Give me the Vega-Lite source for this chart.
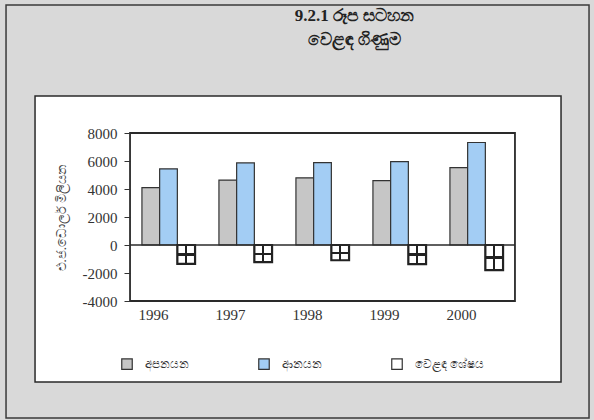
{
  "$schema": "https://vega.github.io/schema/vega-lite/v6.json",
  "width": 385,
  "height": 168,
  "autosize": {"type": "none"},
  "padding": {"left": 130, "top": 133, "right": 79, "bottom": 119},
  "background": "#d9d9d9",
  "config": {
    "view": {"stroke": null},
    "font": "Liberation Serif",
    "axisY": {
      "domain": false,
      "grid": false,
      "tickSize": 6,
      "tickColor": "#333",
      "labelFontSize": 15,
      "labelColor": "#333",
      "labelPadding": 7,
      "labelOverlap": false,
      "titleFontSize": 13,
      "titleFontWeight": "normal",
      "titleColor": "#444",
      "titlePadding": 14
    }
  },
  "title": {
    "text": ["9.2.1 රූප සටහන", "වෙළඳ ගිණුම"],
    "frame": "group",
    "anchor": "middle",
    "dx": 32,
    "offset": -45,
    "fontSize": 17,
    "lineHeight": 24,
    "fontWeight": 600,
    "color": "#222"
  },
  "datasets": {
    "trade": [
      {"year": "1996", "type": "අපනයන", "value": 4095},
      {"year": "1996", "type": "ආනයන", "value": 5439},
      {"year": "1996", "type": "වෙළඳ ශේෂය", "value": -1344},
      {"year": "1997", "type": "අපනයන", "value": 4639},
      {"year": "1997", "type": "ආනයන", "value": 5864},
      {"year": "1997", "type": "වෙළඳ ශේෂය", "value": -1225},
      {"year": "1998", "type": "අපනයන", "value": 4798},
      {"year": "1998", "type": "ආනයන", "value": 5889},
      {"year": "1998", "type": "වෙළඳ ශේෂය", "value": -1091},
      {"year": "1999", "type": "අපනයන", "value": 4594},
      {"year": "1999", "type": "ආනයන", "value": 5960},
      {"year": "1999", "type": "වෙළඳ ශේෂය", "value": -1366},
      {"year": "2000", "type": "අපනයන", "value": 5522},
      {"year": "2000", "type": "ආනයන", "value": 7320},
      {"year": "2000", "type": "වෙළඳ ශේෂය", "value": -1798}
    ]
  },
  "layer": [
    {
      "data": {"values": [{}]},
      "mark": {"type": "rect", "fill": "transparent", "stroke": "#3a3a3a", "strokeWidth": 1.5},
      "encoding": {
        "x": {"datum": "1996", "type": "nominal", "bandPosition": -2.558},
        "x2": {"datum": "2000", "bandPosition": 2.618},
        "y": {"datum": 17143, "type": "quantitative", "axis": {"values": [-4000, -2000, 0, 2000, 4000, 6000, 8000], "labelExpr": "'' + datum.value", "title": "එ.ජ.ඩොලර් මිලියන", "zindex": 1}},
        "y2": {"datum": -12357}
      }
    },
    {
      "data": {"values": [{}]},
      "mark": {"type": "rect", "fill": "#ffffff", "stroke": "#2a2a2a", "strokeWidth": 1.5},
      "encoding": {
        "x": {"datum": "1996", "type": "nominal", "bandPosition": -2.012},
        "x2": {"datum": "2000", "bandPosition": 2.091},
        "y": {"datum": 10643, "type": "quantitative", "axis": {"values": [-4000, -2000, 0, 2000, 4000, 6000, 8000], "labelExpr": "'' + datum.value", "title": "එ.ජ.ඩොලර් මිලියන", "zindex": 1}},
        "y2": {"datum": -9786}
      }
    },
    {
      "data": {"name": "trade"},
      "mark": {"type": "bar", "stroke": "#333333", "strokeWidth": 1.2},
      "encoding": {
        "x": {
          "field": "year",
          "type": "nominal",
          "scale": {"paddingInner": 0.31, "paddingOuter": 0.155},
          "axis": {
            "title": null,
            "domain": false,
            "ticks": false,
            "labelAngle": 0,
            "labelFontSize": 15,
            "labelPadding": 13,
            "labelColor": "#333",
            "zindex": 1
          }
        },
        "xOffset": {
          "field": "type",
          "type": "nominal",
          "scale": {"domain": ["අපනයන", "ආනයන", "වෙළඳ ශේෂය"], "paddingInner": 0, "paddingOuter": 0}
        },
        "y": {
          "field": "value",
          "type": "quantitative",
          "scale": {"domain": [-4000, 8000], "nice": false, "zero": false},
          "axis": {"values": [-4000, -2000, 0, 2000, 4000, 6000, 8000], "labelExpr": "'' + datum.value", "title": "එ.ජ.ඩොලර් මිලියන", "zindex": 1}
        },
        "color": {
          "field": "type",
          "type": "nominal",
          "scale": {"domain": ["අපනයන", "ආනයන", "වෙළඳ ශේෂය"], "range": ["#c6c6c6", "#a3cdf4", "#ffffff"]},
          "legend": {
            "orient": "none",
            "legendX": -9,
            "legendY": 225,
            "direction": "horizontal",
            "title": null,
            "symbolType": "square",
            "symbolSize": 110,
            "symbolStrokeColor": "#333",
            "symbolStrokeWidth": 1.2,
            "labelFontSize": 12,
            "labelColor": "#333",
            "labelOffset": 12,
            "columnPadding": 67
          }
        }
      }
    },
    {
      "data": {"name": "trade"},
      "transform": [{"filter": "datum.type === 'වෙළඳ ශේෂය'"}],
      "mark": {
        "type": "bar",
        "stroke": "#222222",
        "strokeWidth": 2.2,
        "fill": {
          "gradient": "linear", "x1": 0, "y1": 0, "x2": 1, "y2": 0,
          "stops": [
            {"offset": 0, "color": "#ffffff"},
            {"offset": 0.45, "color": "#ffffff"},
            {"offset": 0.45, "color": "#222222"},
            {"offset": 0.56, "color": "#222222"},
            {"offset": 0.56, "color": "#ffffff"},
            {"offset": 1, "color": "#ffffff"}
          ]
        }
      },
      "encoding": {
        "x": {"field": "year", "type": "nominal"},
        "xOffset": {"field": "type", "type": "nominal"},
        "y": {"field": "value", "type": "quantitative", "axis": {"values": [-4000, -2000, 0, 2000, 4000, 6000, 8000], "labelExpr": "'' + datum.value", "title": "එ.ජ.ඩොලර් මිලියන", "zindex": 1}}
      }
    },
    {
      "data": {"name": "trade"},
      "transform": [{"filter": "datum.type === 'වෙළඳ ශේෂය'"}],
      "mark": {
        "type": "bar",
        "strokeOpacity": 0,
        "fill": {
          "gradient": "linear", "x1": 0, "y1": 0, "x2": 0, "y2": 1,
          "stops": [
            {"offset": 0, "color": "rgba(0,0,0,0)"},
            {"offset": 0.44, "color": "rgba(0,0,0,0)"},
            {"offset": 0.44, "color": "#222222"},
            {"offset": 0.56, "color": "#222222"},
            {"offset": 0.56, "color": "rgba(0,0,0,0)"},
            {"offset": 1, "color": "rgba(0,0,0,0)"}
          ]
        }
      },
      "encoding": {
        "x": {"field": "year", "type": "nominal"},
        "xOffset": {"field": "type", "type": "nominal"},
        "y": {"field": "value", "type": "quantitative", "axis": {"values": [-4000, -2000, 0, 2000, 4000, 6000, 8000], "labelExpr": "'' + datum.value", "title": "එ.ජ.ඩොලර් මිලියන", "zindex": 1}}
      }
    },
    {
      "data": {"values": [{}]},
      "mark": {"type": "rule", "color": "#2a2a2a", "strokeWidth": 1.5},
      "encoding": {"y": {"datum": 0, "type": "quantitative", "axis": {"values": [-4000, -2000, 0, 2000, 4000, 6000, 8000], "labelExpr": "'' + datum.value", "title": "එ.ජ.ඩොලර් මිලියන", "zindex": 1}}}
    },
    {
      "data": {"values": [{}]},
      "mark": {"type": "rect", "fill": "transparent", "stroke": "#2a2a2a", "strokeWidth": 1.8},
      "encoding": {
        "x": {"datum": "1996", "type": "nominal", "bandPosition": -0.224},
        "x2": {"datum": "2000", "bandPosition": 1.224},
        "y": {"datum": 8000, "type": "quantitative", "axis": {"values": [-4000, -2000, 0, 2000, 4000, 6000, 8000], "labelExpr": "'' + datum.value", "title": "එ.ජ.ඩොලර් මිලියන", "zindex": 1}},
        "y2": {"datum": -4000}
      }
    }
  ]
}
